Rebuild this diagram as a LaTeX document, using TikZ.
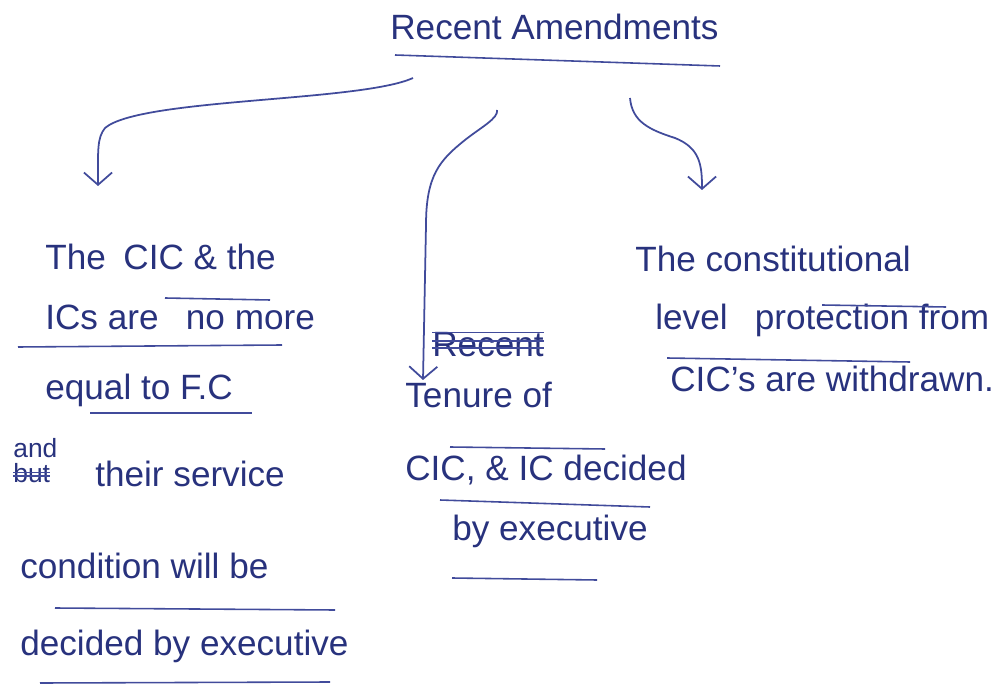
\documentclass[tikz,border=0pt]{standalone}
\usepackage{fontspec}
\setmainfont{Liberation Sans}
\usetikzlibrary{arrows.meta, positioning}
\definecolor{tinta}{RGB}{40, 50, 125}
\definecolor{caneta}{RGB}{65, 75, 155}

\begin{document}
\begin{tikzpicture}[
    x=0.02cm, y=-0.02cm,
    texto/.style={
        anchor=base west,
        inner sep=0pt,
        text=tinta,
        font=\fontsize{20}{24}\selectfont
    },
    pequeno/.style={
        texto,
        font=\fontsize{15}{18}\selectfont
    },
    seta/.style={
        -{Straight Barb[length=7pt, width=16pt]},
        line width=1pt,
        draw=caneta
    },
    risco/.style={
        line width=0.9pt,
        draw=caneta
    }
]
\useasboundingbox (0,0) rectangle (1006,688);

% titulo
\node[texto] (titulo) at (390,40) {Recent Amendments};
\draw[risco] (395,55) -- (720,66);

% pontas das setas
\coordinate (inicioEsq) at (413,78);
\coordinate (fimEsq) at (98,186);
\coordinate (inicioMeio) at (497,110);
\coordinate (fimMeio) at (423,380);
\coordinate (inicioDir) at (630,98);
\coordinate (fimDir) at (702,190);

% coluna da esquerda
\node[texto] (esq1) at (45,270) {The\enspace CIC \& the};
\node[texto] (esq2) at (45,330) {ICs are \enspace no more};
\node[texto] (esq3) at (45,400) {equal to F.C};
\node[pequeno] (and) at (13,458) {and};
\node[pequeno] (but) at (13,482) {but};
\node[texto] (esq4) at (95,486) {their service};
\node[texto] (esq5) at (20,578) {condition will be};
\node[texto] (esq6) at (20,655) {decided by executive};

\draw[risco] (165,298) -- (270,300);
\draw[risco] (18,347) -- (282,345);
\draw[risco] (90,413) -- (252,413);
\draw[risco] ([yshift=3.5pt]but.base west) -- ([yshift=3.5pt]but.base east);
\draw[risco] ([yshift=5.5pt]but.base west) -- ([yshift=5.5pt]but.base east);
\draw[risco] (55,608) -- (335,610);
\draw[risco] (40,683) -- (330,682);

% coluna do meio
\node[texto] (recent) at (432,357) {Recent};
\node[texto] (meio1) at (405,408) {Tenure of};
\node[texto] (meio2) at (405,480) {CIC, \& IC decided};
\node[texto] (meio3) at (452,540) {by executive};

\draw[risco] ([yshift=5pt]recent.base west) -- ([yshift=5pt]recent.base east);
\draw[risco] ([yshift=9pt]recent.base west) -- ([yshift=9pt]recent.base east);
\draw[risco] ([yshift=14pt]recent.base west) -- ([yshift=14pt]recent.base east);
\draw[risco] (450,447) -- (605,449);
\draw[risco] (440,500) -- (650,507);
\draw[risco] (452,578) -- (597,580);

% coluna da direita
\node[texto] (dir1) at (635,272) {The constitutional};
\node[texto] (dir2) at (655,330) {level \enspace protection from};
\node[texto] (dir3) at (670,392) {CIC's are withdrawn.};

\draw[risco] (822,305) -- (946,307);
\draw[risco] (667,358) -- (910,362);

% setas
\draw[seta] (inicioEsq) .. controls (360,102) and (140,98) .. (105,128)
    .. controls (97,138) and (98,150) .. (fimEsq);
\draw[seta] (inicioMeio) .. controls (499,118) and (480,128) .. (465,140)
    .. controls (440,160) and (426,175) .. (426,225) -- (fimMeio);
\draw[seta] (inicioDir) .. controls (632,122) and (650,130) .. (675,138)
    .. controls (700,148) and (702,165) .. (fimDir);

\end{tikzpicture}
\end{document}
